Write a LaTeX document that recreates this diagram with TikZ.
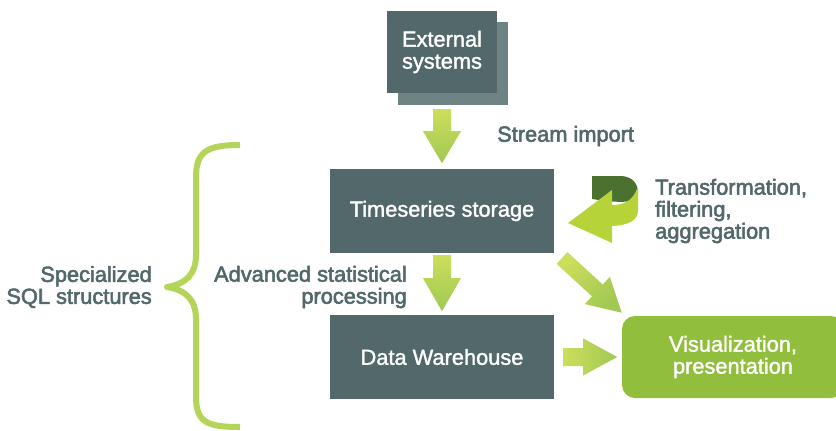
\documentclass[tikz,border=0pt]{standalone}
\usepackage{fontspec}
\setmainfont{Liberation Sans}
\newfontfamily\medfont[FakeBold=1.5]{Liberation Sans}
\newfontfamily\lblfont[FakeBold=2.5]{Liberation Sans}
\usetikzlibrary{calc}
\definecolor{slate}{HTML}{52686B}
\definecolor{slatelt}{HTML}{6D8384}
\definecolor{tailc}{HTML}{CCDE5C}
\definecolor{headc}{HTML}{A0C853}
\definecolor{visc}{HTML}{92BE3E}
\definecolor{bracec}{HTML}{B5D45A}
\definecolor{darkg}{HTML}{4B7131}
\definecolor{lightg}{HTML}{B6D43A}
% #1 start coordinate, #2 angle, #3 length, #4 head length, #5 head half width, #6 shaft half width
\newcommand\blockarrow[6]{%
  \begin{scope}[shift={(#1)}, rotate=#2]
    \shade[top color=tailc, bottom color=headc, shading angle={#2+90}]
      (0,-#6) -- ({#3-#4},-#6) -- ({#3-#4},-#5) -- (#3,0) -- ({#3-#4},#5) -- ({#3-#4},#6) -- (0,#6) -- cycle;
  \end{scope}}
\tikzset{
  txt/.style={font=\medfont\fontsize{21.8}{22}\selectfont},
  box/.style={txt, fill=slate, text=white, inner sep=0pt, align=center},
  lbl/.style={font=\lblfont\fontsize{21.8}{22}\selectfont, text=slate, inner sep=0pt},
}
\begin{document}
\begin{tikzpicture}[x=1pt,y=-1pt]
\useasboundingbox (0,0) rectangle (836,431);
\clip (0,0) rectangle (836,431);
\fill[white] (0,0) rectangle (836,431);

% External systems with shadow
\fill[slatelt] (398,22) rectangle (508,105);
\node[box, minimum width=110, minimum height=82] (ext) at (442,52) {External\\systems};

\node[box, minimum width=224, minimum height=84] (ts) at (442,211) {Timeseries storage};
\node[box, minimum width=224, minimum height=84] (dw) at (442,357) {Data Warehouse};
\node[txt, fill=visc, text=white, rounded corners=13, minimum width=222, minimum height=82, align=center, inner sep=0pt] (vis) at (733,357) {Visualization,\\presentation};

% block arrows
\coordinate (a1s) at ($(ext.south)+(0,16)$);
\blockarrow{a1s}{-90}{54}{32}{19}{9}
\coordinate (a2s) at ($(ts.south)+(0,2)$);
\blockarrow{a2s}{-90}{56}{33}{19}{9}
\coordinate (a3s) at ($(dw.east)+(9,0)$);
\blockarrow{a3s}{0}{54}{34}{18.5}{9}
\coordinate (a4s) at (562,258);
\blockarrow{a4s}{-42.5}{81}{33}{18.5}{8}

% labels
\node[lbl, anchor=west] (stream) at (497,136) {Stream import};
\node[lbl, anchor=west, align=left] (trans) at (655,211) {Transformation,\\filtering,\\aggregation};
\node[lbl, anchor=east, align=right] (spec) at (152,287) {Specialized\\SQL structures};
\node[lbl, anchor=east, align=right] (adv) at (407,287) {Advanced statistical\\processing};

% circular arrow
\fill[darkg] (592,176) -- (622,176) .. controls (632,177) and (638,183) .. (638,193)
  -- (632,201) .. controls (620,203) and (605,201) .. (592,199) -- cycle;
\fill[lightg] (568,223) -- (612,190) -- (612,205)
  .. controls (622,205) and (632,202) .. (637,189)
  -- (638,189) -- (638,210) .. controls (638,220) and (630,225) .. (612,226)
  -- (612,243) -- cycle;

% brace
\draw[bracec, line width=6pt, line cap=butt, line join=round]
  (240,145) .. controls (206,145) and (196,152) .. (196,178) -- (196,255)
  .. controls (196,274) and (186,284) .. (167,287)
  .. controls (186,290) and (196,300) .. (196,319) -- (196,396)
  .. controls (196,422) and (206,427) .. (240,427);
\end{tikzpicture}
\end{document}
